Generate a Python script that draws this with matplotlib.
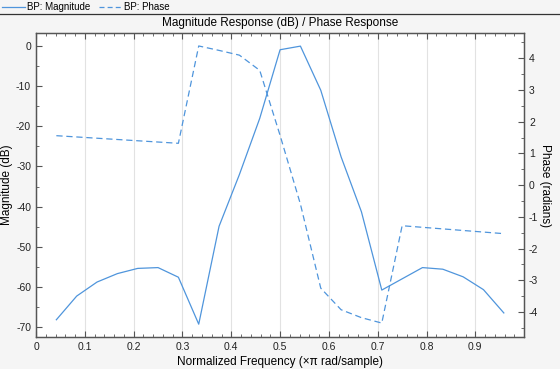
import matplotlib.pyplot as plt
from matplotlib.lines import Line2D
from matplotlib.ticker import MultipleLocator

plt.rcParams['font.family'] = ['Liberation Sans', 'DejaVu Sans']
plt.rcParams['axes.unicode_minus'] = False

# normalized frequency points (k/24)
freq = [k / 24 for k in range(1, 24)]

mag_db = [-68.2, -62.3, -58.8, -56.7, -55.4, -55.2, -57.6, -69.3, -44.9, -32.0,
          -18.0, -0.9, 0.0, -11.0, -27.6, -41.3, -60.8, -58.0, -55.2, -55.6,
          -57.5, -60.7, -66.5]

phase = [1.56, 1.52, 1.48, 1.44, 1.40, 1.36, 1.32, 4.39, 4.25, 4.10,
         3.62, 1.57, -0.60, -3.25, -3.93, -4.18, -4.35, -1.28, -1.33, -1.38,
         -1.43, -1.48, -1.53]

col = '#4f95dc'
spine_col = '#555555'
bg = '#f5f5f5'

fig = plt.figure(figsize=(5.6, 3.69), dpi=100, facecolor=bg)
ax = fig.add_axes([0.0643, 0.0867, 0.8717, 0.8231])
ax.set_facecolor('white')
ax2 = ax.twinx()

ax.plot(freq, mag_db, color=col, lw=0.9)
ax2.plot(freq, phase, color=col, lw=0.9, ls=(0, (5, 3)))

ax.set_xlim(0, 1)
ax.set_ylim(-72.5, 3.2)
ax2.set_ylim(-4.79, 4.79)

ax.xaxis.set_minor_locator(MultipleLocator(0.02))
ax.yaxis.set_major_locator(MultipleLocator(10))
ax.yaxis.set_minor_locator(MultipleLocator(5))
ax2.yaxis.set_major_locator(MultipleLocator(1))
ax2.yaxis.set_minor_locator(MultipleLocator(0.5))

ax.set_xticks([0, 0.1, 0.2, 0.3, 0.4, 0.5, 0.6, 0.7, 0.8, 0.9])
ax.set_xticklabels(['0', '0.1', '0.2', '0.3', '0.4', '0.5', '0.6', '0.7', '0.8', '0.9'])

ax.grid(axis='x', color='#e2e2e2', lw=0.8)
ax.set_axisbelow(True)

for a in (ax, ax2):
    for s in a.spines.values():
        s.set_color(spine_col)
        s.set_linewidth(0.9)
    a.tick_params(which='both', direction='in', colors=spine_col, labelcolor='#222222',
                  labelsize=7.5)
    a.tick_params(which='major', length=4)
    a.tick_params(which='minor', length=2)
ax.tick_params(axis='x', which='both', top=True)
ax.tick_params(axis='y', which='both', right=False)

ax.set_xlabel('Normalized Frequency (\u00d7\u03c0 rad/sample)', fontsize=8.5, labelpad=3)
ax.set_ylabel('Magnitude (dB)', fontsize=8.5, labelpad=2)
ax2.set_ylabel('Phase (radians)', fontsize=8.5, rotation=270, labelpad=9)
ax.set_title('Magnitude Response (dB) / Phase Response', fontsize=8.5, pad=5)

handles = [Line2D([], [], color=col, lw=0.9),
           Line2D([], [], color=col, lw=0.9, ls=(0, (4, 2.5)))]
fig.legend(handles, ['BP: Magnitude', 'BP: Phase'], loc='center left',
           bbox_to_anchor=(0.0, 0.981), ncol=2, frameon=False, fontsize=7,
           borderpad=0.1, borderaxespad=0.1,
           handlelength=2.4, handletextpad=0.2, columnspacing=0.9)
fig.add_artist(Line2D([0, 1], [0.961, 0.961], transform=fig.transFigure,
                      color='#333333', lw=0.9))

fig.savefig('out.png', dpi=100, facecolor=bg)
